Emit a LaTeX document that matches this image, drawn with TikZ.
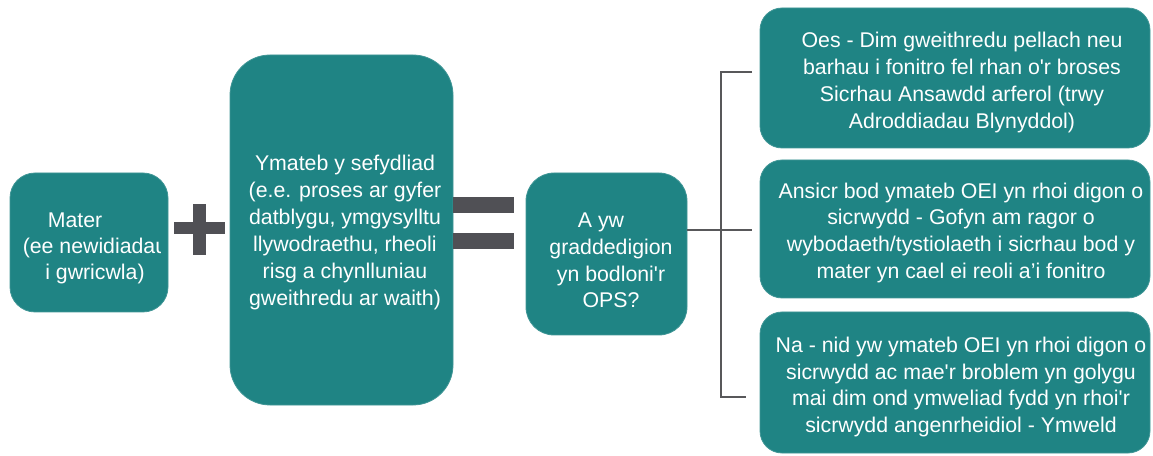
\documentclass[tikz,border=0pt]{standalone}
\usepackage{fontspec}
\setmainfont{Liberation Sans}[Ligatures=TeXOff]
\usepackage{tikz}
\definecolor{tealbox}{RGB}{31,132,132}
\definecolor{signgrey}{RGB}{80,80,85}
\definecolor{bracketgrey}{RGB}{88,88,90}

\begin{document}
\begin{tikzpicture}[x=1pt, y=1pt,
  box/.style={fill=tealbox, draw=tealbox!85!white, line width=0.8pt, inner sep=0pt},
  boxtext/.style={text=white, font=\fontsize{21.3}{26.7}\selectfont, align=center, inner sep=0pt},
  sign/.style={fill=signgrey},
  bracket/.style={draw=bracketgrey, line width=2pt}]

\useasboundingbox (0,0) rectangle (1153,455);

% issue
\node[box, rounded corners=25, minimum width=158, minimum height=139] (mater) at (89,212.5) {};
\begin{scope}
\clip (10,0) rectangle (160,455);
\node[boxtext, font=\fontsize{21.3}{26}\selectfont] (mater text) at (95,206.5) {Mater\hspace*{40pt}\\(ee newidiadau\\i gwricwla)};
\end{scope}

% response of the provider
\node[box, rounded corners=40, minimum width=223, minimum height=350] (ymateb) at (341.5,225) {};
\node[boxtext, font=\fontsize{21.3}{27}\selectfont] (ymateb text) at (345,223)
  {Ymateb y sefydliad\\(e.e. proses ar gyfer\\datblygu, ymgysylltu\\llywodraethu, rheoli\\risg a chynlluniau\\gweithredu ar waith)};

% plus and equals
\fill[sign] (174,221) rectangle (225,233);
\fill[sign] (193,200) rectangle (206,251);
\fill[sign] (453,242) rectangle (514,258);
\fill[sign] (453,206) rectangle (514,222);

% question
\node[box, rounded corners=28, minimum width=161, minimum height=162] (cwestiwn) at (606.5,201) {};
\node[boxtext] (cwestiwn text) at (611,194.5) {A yw\hspace*{20pt}\\graddedigion\\yn bodloni'r\\OPS?};

% outcomes
\node[box, rounded corners=22, minimum width=390, minimum height=140] (oes) at (955,377) {};
\node[boxtext] (oes text) at (962,372.5)
  {Oes - Dim gweithredu pellach neu\\barhau i fonitro fel rhan o'r broses\\Sicrhau Ansawdd arferol (trwy\\Adroddiadau Blynyddol)};

\node[box, rounded corners=22, minimum width=390, minimum height=138] (ansicr) at (955,226) {};
\node[boxtext] (ansicr text) at (961,222.3)
  {Ansicr bod ymateb OEI yn rhoi digon o\\sicrwydd - Gofyn am ragor o\\wybodaeth/tystiolaeth i sicrhau bod y\\mater yn cael ei reoli a’i fonitro};

\node[box, rounded corners=22, minimum width=390, minimum height=141] (na) at (955,72.5) {};
\node[boxtext] (na text) at (961,68)
  {Na - nid yw ymateb OEI yn rhoi digon o\\sicrwydd ac mae'r broblem yn golygu\\mai dim ond ymweliad fydd yn rhoi'r\\sicrwydd angenrheidiol - Ymweld};

% bracket
\coordinate (fork top) at (752,383);
\coordinate (fork mid) at (752,225);
\coordinate (fork bottom) at (746,58);
\draw[bracket] (fork top) -- (721,383) -- (721,58) -- (fork bottom);
\draw[bracket] (cwestiwn.east |- fork mid) -- (fork mid);

\end{tikzpicture}
\end{document}
